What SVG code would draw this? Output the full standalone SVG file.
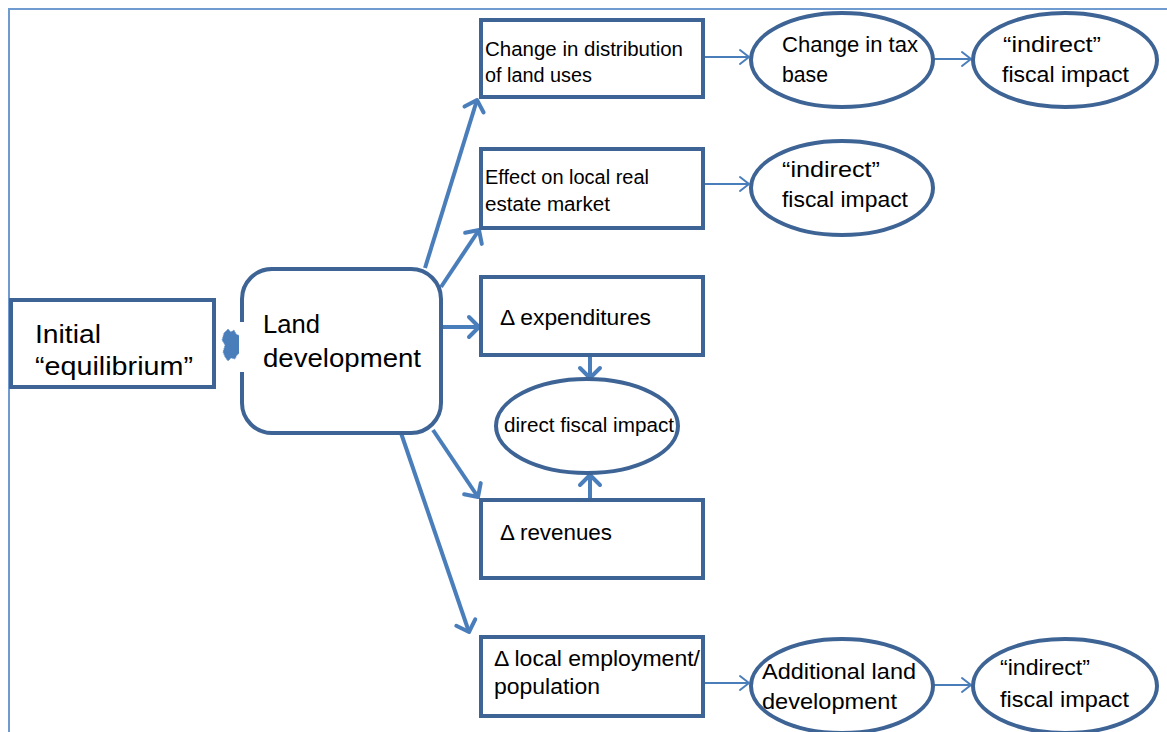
<svg xmlns="http://www.w3.org/2000/svg" width="1167" height="732" viewBox="0 0 1167 732">
<style>
.box{fill:#fff;stroke:#3e6495;stroke-width:4}
.t{font-family:"Liberation Sans",Arial,sans-serif;fill:#000}
.c{stroke:#4a7ebb;fill:none}
.thick{stroke-width:4}
.thin{stroke-width:2}
</style>
<defs>
<marker id="ah" markerUnits="userSpaceOnUse" markerWidth="24" markerHeight="24" refX="12" refY="12" orient="auto" overflow="visible">
<path d="M2,2 L12,12 L2,22" fill="none" stroke="#4a7ebb" stroke-width="4" stroke-linecap="round" stroke-linejoin="round"/>
</marker>
<marker id="ahs" markerUnits="userSpaceOnUse" markerWidth="20" markerHeight="20" refX="12" refY="10" orient="auto" overflow="visible">
<path d="M3,3 L12,10 L3,17" fill="none" stroke="#4a7ebb" stroke-width="2" stroke-linecap="round" stroke-linejoin="round"/>
</marker>
</defs>
<rect width="1167" height="732" fill="#fff"/>
<path d="M9,732 V9 H1167" fill="none" stroke="#6f9bd0" stroke-width="2"/>

<g id="connectors">
<line class="c thick" x1="425" y1="268" x2="477" y2="100" marker-end="url(#ah)"/>
<line class="c thick" x1="441" y1="287" x2="479" y2="230" marker-end="url(#ah)"/>
<line class="c thick" x1="441" y1="327" x2="479" y2="327" marker-end="url(#ah)"/>
<line class="c thick" x1="433" y1="430" x2="478" y2="497" marker-end="url(#ah)"/>
<line class="c thick" x1="401" y1="433" x2="469" y2="632" marker-end="url(#ah)"/>
<line class="c thick" x1="590" y1="356" x2="590" y2="378" marker-end="url(#ah)"/>
<line class="c thick" x1="590" y1="499" x2="590" y2="475" marker-end="url(#ah)"/>
<line class="c thin" x1="704" y1="57" x2="749" y2="57" marker-end="url(#ahs)"/>
<line class="c thin" x1="934" y1="59" x2="971" y2="59" marker-end="url(#ahs)"/>
<line class="c thin" x1="704" y1="184" x2="749" y2="184" marker-end="url(#ahs)"/>
<line class="c thin" x1="704" y1="683" x2="749" y2="683" marker-end="url(#ahs)"/>
<line class="c thin" x1="934" y1="685" x2="971" y2="685" marker-end="url(#ahs)"/>
<path d="M224,333 L228,329 L231,332 L234,330 L236,334 L240,336 L242,344 L241,352 L237,355 L235,359 L231,358 L228,361 L225,357 L223,352 L225,345 L222,340 Z" fill="#4a7ebb" stroke="#6f9bd0" stroke-width="1" stroke-dasharray="1 1"/>
</g>

<g id="initial">
<rect class="box" x="11" y="300" width="203" height="87"/>
<text class="t" font-size="25" x="35" y="343" textLength="66" lengthAdjust="spacingAndGlyphs">Initial</text>
<text class="t" font-size="25" x="35" y="375" textLength="158" lengthAdjust="spacingAndGlyphs">“equilibrium”</text>
</g>

<g id="land">
<rect class="box" x="242" y="269" width="199" height="164" rx="30"/>
<rect x="239" y="322" width="7" height="50" fill="#fff"/>
<text class="t" font-size="25" x="263" y="333" textLength="57" lengthAdjust="spacingAndGlyphs">Land</text>
<text class="t" font-size="25" x="263" y="367" textLength="158" lengthAdjust="spacingAndGlyphs">development</text>
</g>

<g id="distribution">
<rect class="box" x="481" y="20" width="222" height="77"/>
<text class="t" font-size="20" x="485" y="56" textLength="198" lengthAdjust="spacingAndGlyphs">Change in distribution</text>
<text class="t" font-size="20" x="485" y="82" textLength="107" lengthAdjust="spacingAndGlyphs">of land uses</text>
</g>

<g id="realestate">
<rect class="box" x="481" y="149" width="222" height="79"/>
<text class="t" font-size="20" x="485" y="184" textLength="164" lengthAdjust="spacingAndGlyphs">Effect on local real</text>
<text class="t" font-size="20" x="485" y="211" textLength="125" lengthAdjust="spacingAndGlyphs">estate market</text>
</g>

<g id="expenditures">
<rect class="box" x="481" y="277" width="222" height="78"/>
<text class="t" font-size="22" x="500" y="325" textLength="151" lengthAdjust="spacingAndGlyphs">Δ expenditures</text>
</g>

<g id="direct">
<ellipse class="box" cx="587" cy="426" rx="91" ry="47"/>
<text class="t" font-size="20" x="504" y="432" textLength="170" lengthAdjust="spacingAndGlyphs">direct fiscal impact</text>
</g>

<g id="revenues">
<rect class="box" x="481" y="500" width="222" height="78"/>
<text class="t" font-size="22" x="500" y="540" textLength="112" lengthAdjust="spacingAndGlyphs">Δ revenues</text>
</g>

<g id="employment">
<rect class="box" x="481" y="637" width="222" height="79"/>
<text class="t" font-size="22" x="494" y="666" textLength="206" lengthAdjust="spacingAndGlyphs">Δ local employment/</text>
<text class="t" font-size="22" x="494" y="694" textLength="106" lengthAdjust="spacingAndGlyphs">population</text>
</g>

<g id="taxbase">
<ellipse class="box" cx="842" cy="60" rx="91" ry="47"/>
<text class="t" font-size="22" x="782" y="52" textLength="136" lengthAdjust="spacingAndGlyphs">Change in tax</text>
<text class="t" font-size="22" x="782" y="82" textLength="46" lengthAdjust="spacingAndGlyphs">base</text>
</g>

<g id="indirect1">
<ellipse class="box" cx="1065" cy="60" rx="92" ry="47"/>
<text class="t" font-size="22" x="1003" y="52" textLength="98" lengthAdjust="spacingAndGlyphs">“indirect”</text>
<text class="t" font-size="22" x="1002" y="82" textLength="127" lengthAdjust="spacingAndGlyphs">fiscal impact</text>
</g>

<g id="indirect2">
<ellipse class="box" cx="842" cy="188" rx="91" ry="47"/>
<text class="t" font-size="22" x="782" y="177" textLength="98" lengthAdjust="spacingAndGlyphs">“indirect”</text>
<text class="t" font-size="22" x="782" y="207" textLength="126" lengthAdjust="spacingAndGlyphs">fiscal impact</text>
</g>

<g id="additional">
<ellipse class="box" cx="842" cy="686" rx="91" ry="47"/>
<text class="t" font-size="22" x="762" y="679" textLength="154" lengthAdjust="spacingAndGlyphs">Additional land</text>
<text class="t" font-size="22" x="762" y="709" textLength="135" lengthAdjust="spacingAndGlyphs">development</text>
</g>

<g id="indirect3">
<ellipse class="box" cx="1065" cy="686" rx="92" ry="47"/>
<text class="t" font-size="22" x="1000" y="675" textLength="90" lengthAdjust="spacingAndGlyphs">“indirect”</text>
<text class="t" font-size="22" x="1000" y="707" textLength="129" lengthAdjust="spacingAndGlyphs">fiscal impact</text>
</g>
</svg>
